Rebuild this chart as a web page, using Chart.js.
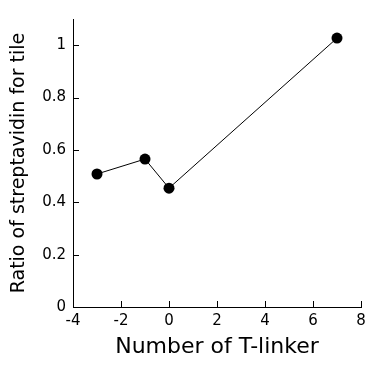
<!DOCTYPE html>
<html>
<head>
<meta charset="utf-8">
<script src="https://cdn.jsdelivr.net/npm/chart.js@4"></script>
<style>
  body { margin: 0; background: #fff; }
</style>
</head>
<body>
<canvas id="linkerChart" width="372" height="368"></canvas>
<script>
const tLinker = [-3, -1, 0, 7];
const ratio = [0.508, 0.565, 0.454, 1.027];
const xTicks = [-4, -2, 0, 2, 4, 6, 8];
const yTicks = [0, 0.2, 0.4, 0.6, 0.8, 1];

// ticks point into the plot area, so draw them ourselves from the scales
const inwardTicks = {
    id: 'inwardTicks',
    afterDatasetsDraw(chart) {
        const ctx = chart.ctx;
        const x = chart.scales.x;
        const y = chart.scales.y;
        const area = chart.chartArea;
        ctx.save();
        ctx.strokeStyle = '#000';
        ctx.lineWidth = 1;
        ctx.beginPath();
        xTicks.forEach(v => {
            const px = Math.round(x.getPixelForValue(v)) + 0.5;
            ctx.moveTo(px, area.bottom);
            ctx.lineTo(px, area.bottom - 6);
        });
        yTicks.forEach(v => {
            const py = Math.round(y.getPixelForValue(v)) + 0.5;
            ctx.moveTo(area.left, py);
            ctx.lineTo(area.left + 6, py);
        });
        ctx.stroke();
        ctx.restore();
    }
};

new Chart(document.getElementById('linkerChart'), {
    type: 'scatter',
    data: {
        datasets: [{
            data: tLinker.map((t, i) => ({ x: t, y: ratio[i] })),
            showLine: true,
            borderColor: '#000',
            borderWidth: 1,
            backgroundColor: '#000',
            pointRadius: 5.5,
            pointBorderWidth: 0
        }]
    },
    options: {
        responsive: false,
        animation: false,
        layout: { padding: { left: 0, top: 19, right: 11, bottom: 0 } },
        plugins: { legend: { display: false }, tooltip: { enabled: false } },
        scales: {
            x: {
                type: 'linear',
                min: -4,
                max: 8,
                afterBuildTicks: s => { s.ticks = xTicks.map(v => ({ value: v })); },
                afterFit: s => { s.height = 61; },
                grid: { display: false, drawTicks: false },
                border: { color: '#000', width: 1 },
                ticks: {
                    padding: 5,
                    color: '#000',
                    font: { family: 'DejaVu Sans', size: 15 }
                },
                title: {
                    display: true,
                    text: 'Number of T-linker',
                    color: '#000',
                    font: { family: 'DejaVu Sans', size: 22 },
                    padding: { top: 0, bottom: 8 }
                }
            },
            y: {
                min: 0,
                max: 1.1,
                afterBuildTicks: s => { s.ticks = yTicks.map(v => ({ value: v })); },
                afterFit: s => { s.width = 73; },
                grid: { display: false, drawTicks: false },
                border: { color: '#000', width: 1 },
                ticks: {
                    padding: 7,
                    color: '#000',
                    font: { family: 'DejaVu Sans', size: 15 },
                    callback: v => String(Number(v.toFixed(1)))
                },
                title: {
                    display: true,
                    text: 'Ratio of streptavidin for tile',
                    color: '#000',
                    font: { family: 'DejaVu Sans', size: 19 },
                    padding: { top: 8, bottom: 0 }
                }
            }
        }
    },
    plugins: [inwardTicks]
});
</script>
</body>
</html>
